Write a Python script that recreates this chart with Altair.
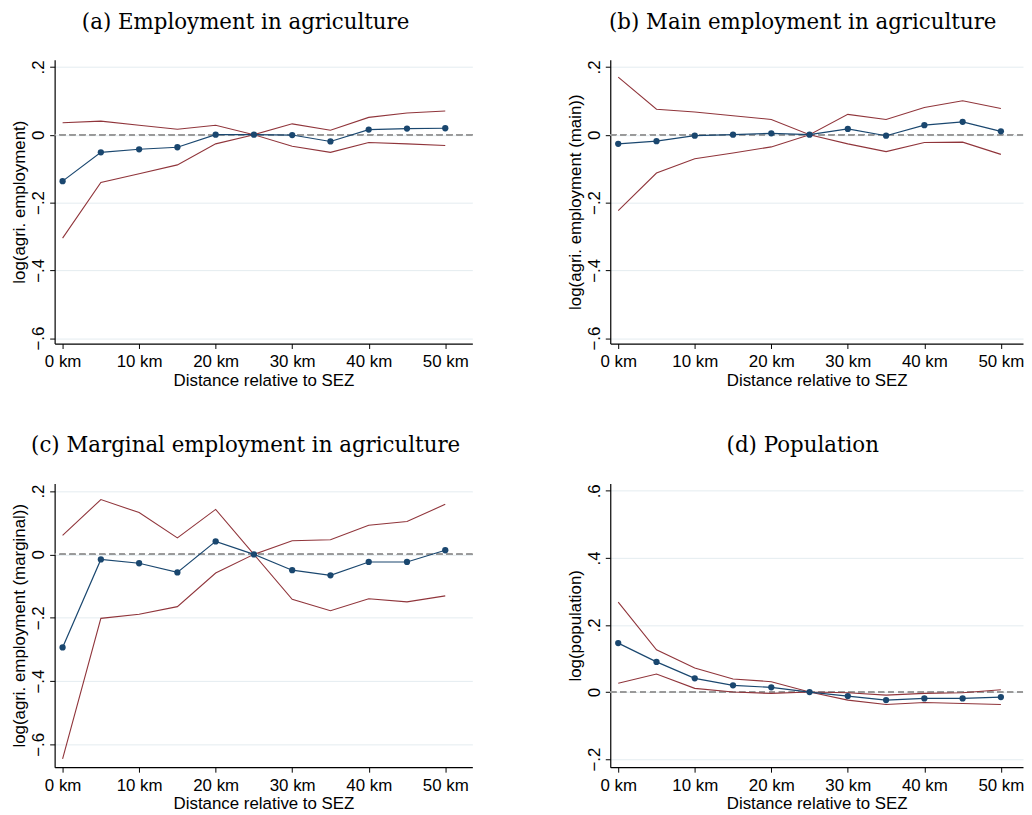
import altair as alt
import pandas as pd

distance = [0, 5, 10, 15, 20, 25, 30, 35, 40, 45, 50]

# (a) Employment in agriculture
emp_est = [-0.137, -0.052, -0.043, -0.037, 0.0, 0.0, -0.001, -0.020, 0.015, 0.018, 0.019]
emp_hi = [0.035, 0.040, 0.028, 0.016, 0.028, 0.0, 0.032, 0.013, 0.051, 0.064, 0.070]
emp_lo = [-0.305, -0.141, -0.115, -0.089, -0.027, 0.0, -0.034, -0.052, -0.023, -0.027, -0.032]

# (b) Main employment in agriculture
main_est = [-0.027, -0.019, -0.003, 0.0, 0.004, 0.0, 0.017, -0.003, 0.028, 0.038, 0.010]
main_hi = [0.170, 0.075, 0.067, 0.056, 0.045, 0.0, 0.060, 0.045, 0.080, 0.100, 0.077]
main_lo = [-0.224, -0.113, -0.071, -0.054, -0.036, 0.0, -0.027, -0.050, -0.023, -0.022, -0.058]

# (c) Marginal employment in agriculture
marg_est = [-0.294, -0.016, -0.028, -0.057, 0.041, 0.0, -0.050, -0.066, -0.024, -0.024, 0.013]
marg_hi = [0.060, 0.173, 0.132, 0.052, 0.142, 0.0, 0.043, 0.046, 0.092, 0.104, 0.158]
marg_lo = [-0.646, -0.202, -0.189, -0.165, -0.059, 0.0, -0.142, -0.178, -0.140, -0.150, -0.131]

# (d) Population
pop_est = [0.146, 0.090, 0.041, 0.020, 0.014, 0.0, -0.012, -0.024, -0.019, -0.019, -0.015]
pop_hi = [0.268, 0.126, 0.072, 0.039, 0.031, 0.0, -0.002, -0.009, -0.004, -0.002, 0.007]
pop_lo = [0.026, 0.054, 0.011, 0.0, -0.004, 0.0, -0.024, -0.037, -0.031, -0.034, -0.037]

x_ticks = [0, 10, 20, 30, 40, 50]
emp_ticks = [-0.6, -0.4, -0.2, 0, 0.2]
pop_ticks = [-0.2, 0, 0.2, 0.4, 0.6]

NAVY = "#1a476f"
MAROON = "#90353b"

Y_LABELS = (
    "datum.value == 0 ? '0' : (datum.value < 0 ? '\u2212' : '') + "
    "replace(format(abs(datum.value), '.1f'), '0.', '.')"
)


def panel(est, lo, hi, title, ytitle, ydomain, yticks, width, xmax, title_dx, title_offset):
    df = pd.DataFrame({"distance": distance, "est": est, "lo": lo, "hi": hi, "zero": 0.0})

    x = alt.X(
        "distance:Q",
        scale=alt.Scale(domain=[-1.04, xmax], nice=False, zero=False),
        axis=alt.Axis(
            values=x_ticks,
            labelExpr="datum.value + ' km'",
            grid=False,
            labelPadding=5,
            titlePadding=3,
        ),
        title="Distance relative to SEZ",
    )
    y_scale = alt.Scale(domain=ydomain, nice=False, zero=False)
    y_axis = alt.Axis(
        values=yticks,
        labelExpr=Y_LABELS,
        labelAngle=270,
        labelAlign="center",
        labelBaseline="alphabetic",
        labelPadding=6,
        grid=True,
        titlePadding=1,
    )

    base = alt.Chart(df)
    zero = base.mark_rule(color="#999999", strokeWidth=1.3, strokeDash=[6, 4]).encode(
        y=alt.Y("zero:Q", scale=y_scale, axis=y_axis, title=ytitle)
    )
    ci = (
        base.transform_fold(["lo", "hi"], as_=["bound", "val"])
        .mark_line(color=MAROON, strokeWidth=1.1)
        .encode(
            x=x,
            y=alt.Y("val:Q", scale=y_scale, axis=y_axis, title=ytitle),
            detail="bound:N",
        )
    )
    line = base.mark_line(
        color=NAVY,
        strokeWidth=1.2,
        point=alt.OverlayMarkDef(filled=True, size=40, color=NAVY, opacity=1),
    ).encode(x=x, y=alt.Y("est:Q", scale=y_scale, axis=y_axis, title=ytitle))

    return alt.layer(zero, ci, line).properties(
        width=width,
        height=286,
        title=alt.TitleParams(
            title,
            font="DejaVu Serif",
            fontSize=21.5,
            fontWeight="normal",
            color="black",
            anchor="middle",
            frame="group",
            dx=title_dx,
            offset=title_offset,
        ),
    )


a = panel(emp_est, emp_lo, emp_hi, "(a) Employment in agriculture", "log(agri. employment)",
          [-0.616, 0.221], emp_ticks, 421, 53.54, -18, 27)
b = panel(main_est, main_lo, main_hi, "(b) Main employment in agriculture",
          "log(agri. employment (main))", [-0.616, 0.221], emp_ticks, 416, 52.89, -14, 27)
c = panel(marg_est, marg_lo, marg_hi, "(c) Marginal employment in agriculture",
          "log(agri. employment (marginal))", [-0.672, 0.224], emp_ticks, 421, 53.54, -18, 27)
d = panel(pop_est, pop_lo, pop_hi, "(d) Population", "log(population)",
          [-0.224, 0.622], pop_ticks, 416, 52.89, -14, 27)

chart = (
    alt.concat(a, b, c, d, columns=2, spacing={"row": 141, "column": 139}, bounds="flush")
    .properties(padding={"left": 2, "top": 0, "right": 0, "bottom": 0})
    .configure_axis(
        labelFont="Liberation Sans",
        titleFont="Liberation Sans",
        labelFontSize=17,
        titleFontSize=17,
        titleFontWeight="normal",
        labelColor="black",
        titleColor="black",
        domainColor="black",
        domainWidth=1.2,
        tickColor="black",
        tickSize=5,
        gridColor="#e4ecf0",
        gridWidth=1,
    )
    .configure_view(stroke=None)
)

chart.save("out.html", embed_options={"renderer": "svg", "actions": False})
